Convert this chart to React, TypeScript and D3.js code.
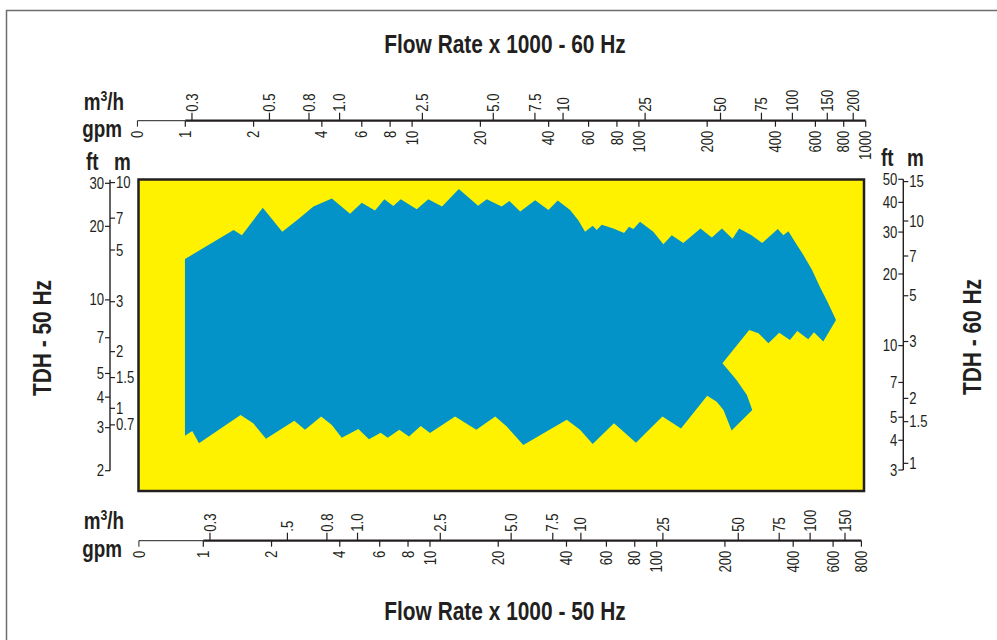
import React from 'react';
import * as d3 from 'd3';

// flow in gpm, head in ft (50 Hz curve, left/bottom axes)
const upperEdge: [number, number][] = [
  [0.83, 14.7], [1.36, 19.3], [1.48, 18.4], [1.83, 23.8], [2.23, 19.0], [2.62, 21.4],
  [3.06, 24.1], [3.69, 26.0], [4.44, 22.5], [5.0, 25.0], [5.72, 23.2], [6.29, 25.8],
  [6.89, 24.2], [7.43, 25.8], [8.74, 23.5], [9.83, 25.8], [11.3, 24.1], [13.4, 28.4],
  [16.3, 24.3], [17.8, 25.8], [20.7, 24.1], [22.4, 25.4], [25.0, 23.0], [29.1, 25.6],
  [33.3, 23.3], [36.6, 25.5], [41.5, 23.3], [45.1, 21.2], [48.3, 19.0], [52.2, 20.1],
  [54.4, 19.3], [57.2, 20.3], [64.4, 19.6], [71.8, 18.8], [75.5, 19.9], [78.9, 19.5],
  [84.4, 20.9], [96.6, 19.0], [107, 16.9], [116.5, 18.4], [131, 17.1], [156, 19.6],
  [175, 18.0], [194, 19.6], [216, 17.8], [231, 19.6], [262, 18.4], [292, 17.1],
  [342, 19.5], [362, 18.4], [381, 19.1], [407, 17.3], [443, 15.3], [484, 13.3],
  [525, 11.3], [570, 9.71], [618, 8.28]
];

const notchEdge: [number, number][] = [
  [543, 6.75], [494, 7.37], [466, 6.9], [417, 7.46], [387, 6.85], [347, 7.34],
  [311, 6.65], [281, 7.3], [256, 7.53], [195, 5.5], [225, 4.7], [250, 4.08],
  [264, 3.54], [214, 2.92], [197, 3.54], [184, 3.83], [167, 4.05]
];

const lowerEdge: [number, number][] = [
  [128, 2.98], [106, 3.33], [81.0, 2.6], [72.5, 2.85], [64.8, 3.13], [52.2, 2.57],
  [45.9, 2.94], [40.1, 3.23], [25.8, 2.55], [21.8, 3.03], [19.4, 3.33], [16.0, 2.94],
  [12.9, 3.33], [10.0, 2.85], [9.1, 3.05], [8.08, 2.76], [7.32, 2.94], [6.51, 2.73],
  [6.06, 2.86], [5.38, 2.69], [4.83, 2.96], [4.08, 2.73], [3.69, 3.08], [3.31, 3.33],
  [2.81, 2.94], [2.52, 3.2], [1.89, 2.7], [1.66, 3.13], [1.46, 3.38], [0.957, 2.59],
  [0.894, 2.91], [0.83, 2.78]
];

// axis ticks
const gpmTicks60 = [1, 2, 4, 6, 8, 10, 20, 40, 60, 80, 100, 200, 400, 600, 800, 1000];
const gpmTicks50 = [1, 2, 4, 6, 8, 10, 20, 40, 60, 80, 100, 200, 400, 600, 800];
const gpmStart60 = 0.615;
const gpmStart50 = 0.52;
const m3hLabels60 = ['0.3', '0.5', '0.8', '1.0', '2.5', '5.0', '7.5', '10', '25', '50', '75', '100', '150', '200'];
const m3hLabels50 = ['0.3', '.5', '0.8', '1.0', '2.5', '5.0', '7.5', '10', '25', '50', '75', '100', '150'];
const m3hAtGpm = [1.07, 2.35, 3.51, 4.79, 11.1, 22.8, 34.8, 46.3, 106.5, 229, 347, 475, 677, 881];

const ftTicks50 = [2, 3, 4, 5, 7, 10, 20, 30];
const mLabels50 = ['0.7', '1', '1.5', '2', '3', '5', '7', '10'];
const mAtFt50 = [3.08, 3.6, 4.81, 6.14, 9.83, 16.0, 21.6, 30.2];
const ftTicks60 = [3, 4, 5, 7, 10, 20, 30, 40, 50];
const mLabels60 = ['1', '1.5', '2', '3', '5', '7', '10', '15'];
const mAtFt60 = [3.2, 4.79, 6.0, 10.4, 16.2, 23.8, 33.4, 48.9];

const SANS = "'Liberation Sans', Arial, 'DejaVu Sans', sans-serif";
const BLUE = '#0393c8';
const YELLOW = '#fff200';
const INK = '#231f20';
const SQUEEZE = 0.82; // condensed look

const x60 = d3.scaleLog().domain([1, 1000]).range([185.3, 865.7]);
const x50 = d3.scaleLog().domain([1, 1000]).range([203.3, 883.4]);
const yL = d3.scaleLog().domain([2, 30]).range([470.7, 183.3]);
const yR = d3.scaleLog().domain([3, 50]).range([470, 179.3]);

const outline = d3.line<[number, number]>()
  .x(d => x50(d[0]))
  .y(d => yL(d[1]))
  .curve(d3.curveLinearClosed);

// narrow text helper
function T({ x, y, rot = false, anchor = 'start', size = 16, bold = false, dy, children }: {
  x: number; y: number; rot?: boolean; anchor?: string; size?: number; bold?: boolean;
  dy?: string; children: React.ReactNode;
}) {
  return (
    <text
      transform={`translate(${x},${y})${rot ? ' rotate(-90)' : ''} scale(${SQUEEZE},1)`}
      textAnchor={anchor}
      fontSize={size}
      fontWeight={bold ? 'bold' : 'normal'}
      dy={dy}
    >{children}</text>
  );
}

function FlowAxis({ x, y0, start, end, gpm, m3h }: {
  x: d3.ScaleLogarithmic<number, number>; y0: number; start: number; end: number;
  gpm: number[]; m3h: string[];
}) {
  const x0 = x(start);
  const x1 = x(1);
  return (
    <g>
      <line x1={x0} x2={x1} y1={y0} y2={y0} stroke={INK} strokeWidth={1} />
      <line x1={x1} x2={x(end)} y1={y0} y2={y0} stroke={INK} strokeWidth={2.2} />
      <line x1={x0} x2={x0} y1={y0} y2={y0 + 6} stroke={INK} strokeWidth={1} />
      <T x={x0} y={y0 + 10} rot anchor="end" dy="0.35em">0</T>
      {gpm.map(v => (
        <g key={'g' + v}>
          <line x1={x(v)} x2={x(v)} y1={y0} y2={y0 + 6} stroke={INK} strokeWidth={1.2} />
          <T x={x(v)} y={y0 + 10} rot anchor="end" dy="0.35em">{v}</T>
        </g>
      ))}
      {m3h.map((lab, i) => (
        <g key={'m' + lab}>
          <line x1={x(m3hAtGpm[i])} x2={x(m3hAtGpm[i])} y1={y0} y2={y0 - 8} stroke={INK} strokeWidth={1.2} />
          <T x={x(m3hAtGpm[i])} y={y0 - 9} rot anchor="start" dy="0.35em">{lab}</T>
        </g>
      ))}
    </g>
  );
}

function HeadAxis({ y, x0, ft, mLab, mAt, lo, hi }: {
  y: d3.ScaleLogarithmic<number, number>; x0: number; ft: number[]; mLab: string[]; mAt: number[];
  lo: number; hi: number;
}) {
  return (
    <g>
      <line x1={x0} x2={x0} y1={y(lo)} y2={y(hi)} stroke={INK} strokeWidth={1.4} />
      {ft.map(v => (
        <g key={'f' + v}>
          <line x1={x0 - 5} x2={x0} y1={y(v)} y2={y(v)} stroke={INK} strokeWidth={1.2} />
          <T x={x0 - 6} y={y(v)} dy="0.35em" anchor="end">{v}</T>
        </g>
      ))}
      {mLab.map((lab, i) => (
        <g key={'m' + lab}>
          <line x1={x0} x2={x0 + 5} y1={y(mAt[i])} y2={y(mAt[i])} stroke={INK} strokeWidth={1.2} />
          <T x={x0 + 6} y={y(mAt[i])} dy="0.35em">{lab}</T>
        </g>
      ))}
    </g>
  );
}

function UnitLabels({ yM, yG }: { yM: number; yG: number }) {
  return (
    <g>
      <T x={124} y={yM} anchor="end" size={23} bold>
        m<tspan dy={-9} fontSize={15}>3</tspan><tspan dy={9}>/h</tspan>
      </T>
      <T x={122} y={yG} anchor="end" size={23} bold>gpm</T>
    </g>
  );
}

export default function App() {
  const pathD = outline([...upperEdge, ...notchEdge, ...lowerEdge]) || '';
  return (
    <svg width={997} height={640} style={{ position: 'absolute', left: 0, top: 0 }} fontFamily={SANS} fill={INK}>
      <rect width={997} height={640} fill="#fff" />
      <path d="M6.5,640 V10.5 H997" fill="none" stroke="#6d6e71" strokeWidth={1.5} />

      <T x={505} y={53} anchor="middle" size={25.5} bold>Flow Rate x 1000 - 60 Hz</T>
      <T x={505} y={620} anchor="middle" size={25.5} bold>Flow Rate x 1000 - 50 Hz</T>
      <T x={51} y={338} rot anchor="middle" size={25.5} bold>TDH - 50 Hz</T>
      <T x={981} y={337} rot anchor="middle" size={25.5} bold>TDH - 60 Hz</T>

      <rect x={138.5} y={179.5} width={725.5} height={311.5} fill={YELLOW} />
      <path d={pathD} fill={BLUE} />
      <rect x={138.5} y={179.5} width={725.5} height={311.5} fill="none" stroke={INK} strokeWidth={2.5} />

      <FlowAxis x={x60} y0={120.7} start={gpmStart60} end={1000} gpm={gpmTicks60} m3h={m3hLabels60} />
      <FlowAxis x={x50} y0={540.7} start={gpmStart50} end={800} gpm={gpmTicks50} m3h={m3hLabels50} />
      <UnitLabels yM={110} yG={137} />
      <UnitLabels yM={529} yG={557} />

      <HeadAxis y={yL} x0={110} ft={ftTicks50} mLab={mLabels50} mAt={mAtFt50} lo={2} hi={31} />
      <HeadAxis y={yR} x0={903.3} ft={ftTicks60} mLab={mLabels60} mAt={mAtFt60} lo={3} hi={50} />

      <T x={86} y={170} size={23} bold>ft</T>
      <T x={114} y={170} size={23} bold>m</T>
      <T x={881} y={166} size={23} bold>ft</T>
      <T x={907} y={166} size={23} bold>m</T>
    </svg>
  );
}
